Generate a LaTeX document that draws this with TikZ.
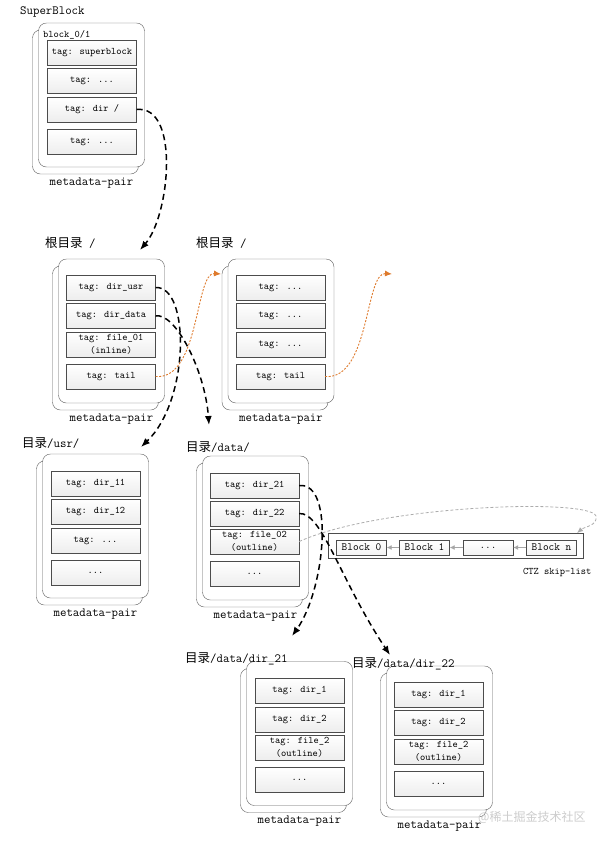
\documentclass[tikz,border=0pt]{standalone}
\usepackage{fontspec}
\newfontfamily\cjk{Noto Sans CJK SC}
\usetikzlibrary{positioning,arrows.meta}
\definecolor{tailorange}{RGB}{222,122,44}

\begin{document}
\begin{tikzpicture}[x=1pt, y=-1pt]
\tikzstyle{pairframe}=[draw=gray!75!black, fill=white, rounded corners=8pt, minimum width=106pt, minimum height=144pt, inner sep=0pt]
\tikzstyle{tagbox}=[draw=gray!60!black, top color=white, bottom color=gray!14, minimum width=89pt, minimum height=25pt, inner sep=0pt, align=center, font=\ttfamily\fontsize{10}{12.5}\selectfont]
\tikzstyle{dirtitle}=[anchor=west, inner sep=0pt, font=\ttfamily\fontsize{12.5}{14}\selectfont]
\tikzstyle{pairname}=[inner sep=0pt, font=\ttfamily\fontsize{12.5}{14}\selectfont]
\tikzstyle{ctzblock}=[draw=gray!60!black, top color=white, bottom color=gray!10, minimum width=50pt, minimum height=15pt, inner sep=0pt, font=\ttfamily\fontsize{11}{12}\selectfont]
\tikzstyle{ptr}=[line width=1.5pt, dash pattern=on 6pt off 4pt, -{Latex[length=9pt,width=7pt]}]
\tikzstyle{tailptr}=[tailorange, line width=0.9pt, dash pattern=on 2pt off 1.5pt, -{Latex[length=7pt,width=6pt]}]
\tikzstyle{ctzarrow}=[gray!70, line width=0.9pt, -{Latex[length=5pt,width=5pt]}]
\tikzstyle{ctzptr}=[gray!65, line width=0.8pt, dash pattern=on 3pt off 2pt, -{Latex[length=6pt,width=5pt]}]
\useasboundingbox (0,0) rectangle (610,844);

% superblock
\node[pairframe] (sbback) at (85.5,102) {};
\node[pairframe] (sb) at (91.5,95) {};
\node[anchor=north west, inner sep=0pt, font=\ttfamily\fontsize{10}{12}\selectfont] (sbid) at (43,30) {block\_0/1};
\node[tagbox] (sb1) at (92,52.5) {tag: superblock};
\node[tagbox] (sb2) at (92,81) {tag: ...};
\node[tagbox] (sb3) at (92,109.5) {tag: dir /};
\node[tagbox] (sb4) at (92,142) {tag: ...};
\node[pairname, below=10pt of sb] (sbcap) {metadata-pair};
\node[dirtitle] (sbtitle) at (20,12) {SuperBlock};

% root directory, two pairs
\node[pairframe] (r1back) at (105.5,338) {};
\node[pairframe] (r1) at (111.5,331) {};
\node[tagbox] (r1a) at (111,287.5) {tag: dir\_usr};
\node[tagbox] (r1b) at (111,316) {tag: dir\_data};
\node[tagbox] (r1c) at (111,344.5) {tag: file\_01\\(inline)};
\node[tagbox] (r1d) at (111,376.5) {tag: tail};
\node[pairname, below=10pt of r1] (r1cap) {metadata-pair};
\node[dirtitle] (r1title) at (45,243) {{\cjk 根目录} /};

\node[pairframe] (r2back) at (275,338) {};
\node[pairframe] (r2) at (281,331) {};
\node[tagbox] (r2a) at (280.5,287.5) {tag: ...};
\node[tagbox] (r2b) at (280.5,316) {tag: ...};
\node[tagbox] (r2c) at (280.5,344.5) {tag: ...};
\node[tagbox] (r2d) at (280.5,376.5) {tag: tail};
\node[pairname, below=10pt of r2] (r2cap) {metadata-pair};
\node[dirtitle] (r2title) at (196,243) {{\cjk 根目录} /};

% /usr/
\node[pairframe] (usrback) at (89.5,533) {};
\node[pairframe] (usr) at (95.5,526) {};
\node[tagbox] (u1) at (95.5,483.5) {tag: dir\_11};
\node[tagbox] (u2) at (95.5,511.5) {tag: dir\_12};
\node[tagbox] (u3) at (95.5,540.5) {tag: ...};
\node[tagbox] (u4) at (95.5,572.5) {...};
\node[pairname, below=10pt of usr] (usrcap) {metadata-pair};
\node[dirtitle] (usrtitle) at (22,443) {{\cjk 目录}/usr/};

% /data/
\node[pairframe] (databack) at (249.5,535) {};
\node[pairframe] (data) at (255.5,528) {};
\node[tagbox] (d1) at (254.5,485.5) {tag: dir\_21};
\node[tagbox] (d2) at (254.5,513.5) {tag: dir\_22};
\node[tagbox] (d3) at (254.5,541.5) {tag: file\_02\\(outline)};
\node[tagbox] (d4) at (254.5,574) {...};
\node[pairname, below=10pt of data] (datacap) {metadata-pair};
\node[dirtitle] (datatitle) at (186,447) {{\cjk 目录}/data/};

% /data/dir_21 and /data/dir_22
\node[pairframe] (ea back) at (293.5,740.5) {};
\node[pairframe] (ea) at (299.5,733.5) {};
\node[tagbox] (ea1) at (299.5,690.5) {tag: dir\_1};
\node[tagbox] (ea2) at (299.5,719.5) {tag: dir\_2};
\node[tagbox] (ea3) at (299.5,747.5) {tag: file\_2\\(outline)};
\node[tagbox] (ea4) at (299.5,779.5) {...};
\node[pairname, below=10pt of ea] (eacap) {metadata-pair};
\node[dirtitle] (eatitle) at (185,659) {{\cjk 目录}/data/dir\_21};

\node[pairframe] (eb back) at (433.5,745) {};
\node[pairframe] (eb) at (439.5,738) {};
\node[tagbox] (eb1) at (438.5,694.5) {tag: dir\_1};
\node[tagbox] (eb2) at (438.5,722.5) {tag: dir\_2};
\node[tagbox] (eb3) at (438.5,751.5) {tag: file\_2\\(outline)};
\node[tagbox] (eb4) at (438.5,783.5) {...};
\node[pairname, below=10pt of eb] (ebcap) {metadata-pair};
\node[dirtitle] (ebtitle) at (352,664) {{\cjk 目录}/data/dir\_22};

% CTZ skip-list
\node[draw=gray!60!black, minimum width=255pt, minimum height=25pt, inner sep=0pt] (ctz) at (455.5,545.5) {};
\node[ctzblock] (b0) at (361.5,547.5) {Block 0};
\node[ctzblock] (b1) at (424.5,547.5) {Block 1};
\node[ctzblock] (bdots) at (488,547.5) {...};
\node[ctzblock] (bn) at (551.5,547.5) {Block n};
\node[anchor=west, inner sep=0pt, font=\ttfamily\fontsize{10}{12}\selectfont] (ctzname) at (523,572) {CTZ skip-list};
\draw[ctzarrow] (bn) -- (bdots);
\draw[ctzarrow] (bdots) -- (b1);
\draw[ctzarrow] (b1) -- (b0);

\coordinate (rootin) at (140,250);
\coordinate (usrin) at (141,447);
\coordinate (datain) at (209,425);
\coordinate (eain) at (292,636);
\coordinate (ebin) at (390,655);
\coordinate (r2in) at (221,274);
\coordinate (nextin) at (392,274);
\coordinate (ctzturn) at (596,516);
\coordinate (ctzin) at (577,533);

% pointers
\draw[ptr] (sb3.east) .. controls (180,105) and (170,215) .. (rootin);
\draw[ptr] (r1a.east) .. controls (190,286) and (190,400) .. (usrin);
\draw[ptr] (r1b.east) .. controls (175,312) and (205,370) .. (datain);
\draw[ptr] (d1.east) .. controls (335,482) and (325,590) .. (eain);
\draw[ptr] (d2.east) .. controls (322,512) and (340,580) .. (ebin);
\draw[tailptr] (r1d.east) .. controls (200,380) and (195,272) .. (r2in);
\draw[tailptr] (r2d.east) .. controls (370,380) and (365,272) .. (nextin);
\draw[ctzptr] (d3.east) .. controls (380,505) and (590,498) .. (ctzturn) to[out=-80,in=40] (ctzin);

\node[anchor=west, inner sep=0pt, text=gray!40, font=\cjk\fontsize{12}{12}\selectfont] (mark) at (478,817) {@稀土掘金技术社区};
\end{tikzpicture}
\end{document}
